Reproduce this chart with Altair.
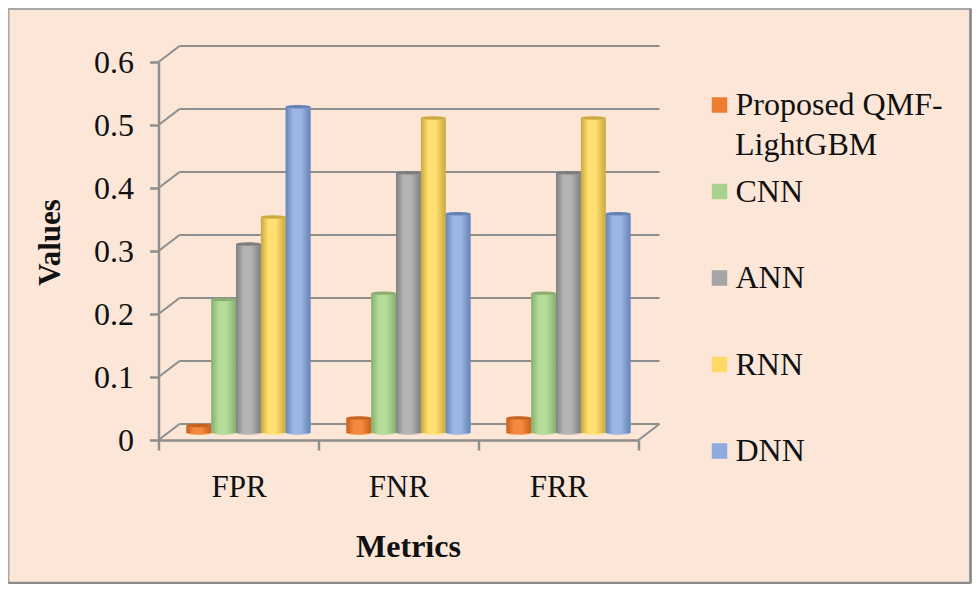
import altair as alt
import pandas as pd

metrics = ["FPR", "FNR", "FRR"]
series = ["Proposed QMF-LightGBM", "CNN", "ANN", "RNN", "DNN"]
values = {
    "Proposed QMF-LightGBM": [0.012, 0.024, 0.024],
    "CNN": [0.212, 0.222, 0.222],
    "ANN": [0.30, 0.413, 0.413],
    "RNN": [0.343, 0.50, 0.50],
    "DNN": [0.518, 0.348, 0.348],
}
y_ticks = [0, 0.1, 0.2, 0.3, 0.4, 0.5, 0.6]
legend_colors = ["#ED7D31", "#A9D18E", "#A5A5A5", "#FFD966", "#8FAADC"]
shades = {
    "Proposed QMF-LightGBM": ("#C55F1C", "#F58A3E", "#C9631E"),
    "CNN": ("#86AE6C", "#B6DC9B", "#8AB071"),
    "ANN": ("#7F7F7F", "#B4B4B4", "#7E7E7E"),
    "RNN": ("#C9A73F", "#FFE070", "#CDAA42"),
    "DNN": ("#6585B5", "#9CB7E6", "#6482B3"),
}

FONT = "Liberation Serif"
AXIS = "#8E8E8E"
ELLIPSE = "M-1,0A1,0.14 0 1,0 1,0A1,0.14 0 1,0 -1,0Z"
DY = -7

rows = [
    {"metric": m, "series": s, "value": values[s][i], "zero": 0}
    for s in series
    for i, m in enumerate(metrics)
]
df = pd.DataFrame(rows)
ticks = pd.DataFrame({"tick": y_ticks})

y_scale = alt.Scale(domain=[0, 0.6], nice=False, zero=False)
x_enc = alt.X(
    "metric:N",
    sort=metrics,
    scale=alt.Scale(paddingInner=0, paddingOuter=0),
    axis=alt.Axis(
        title="Metrics",
        titleFont=FONT,
        titleFontSize=32,
        titleFontWeight="bold",
        titleColor="#111111",
        titleX=249.5,
        titleY=106,
        titleBaseline="middle",
        labelFont=FONT,
        labelFontSize=31,
        labelColor="#111111",
        labelAngle=0,
        labelPadding=22,
        tickBand="extent",
        tickSize=10,
        tickColor=AXIS,
        tickWidth=2.5,
        domainColor=AXIS,
        domainWidth=2.5,
    ),
)
y_axis = alt.Axis(
    title="Values",
    titleFont=FONT,
    titleFontSize=31,
    titleFontWeight="bold",
    titleColor="#111111",
    titleX=-108,
    titleY=180,
    titleAngle=270,
    titleBaseline="middle",
    labelFont=FONT,
    labelFontSize=32,
    labelColor="#111111",
    labelPadding=16,
    values=y_ticks,
    format=".1~f",
    tickSize=9,
    tickColor=AXIS,
    tickWidth=2.5,
    domainColor=AXIS,
    domainWidth=2.5,
    grid=False,
)
y_enc = alt.Y("value:Q", scale=y_scale, axis=y_axis)
off_enc = alt.XOffset(
    "series:N",
    sort=series,
    scale=alt.Scale(domain=series, range=[28, 152], paddingInner=0, paddingOuter=0),
)
color_enc = alt.Color(
    "series:N",
    sort=series,
    scale=alt.Scale(domain=series, range=legend_colors),
    legend=alt.Legend(
        title=None,
        orient="none",
        legendX=545,
        legendY=25,
        symbolType="square",
        symbolSize=240,
        symbolStrokeWidth=0,
        symbolOpacity=1,
        labelFont=FONT,
        labelFontSize=32,
        labelColor="#111111",
        labelLimit=300,
        labelOffset=0,
        rowPadding=50.5,
        clipHeight=36,
        labelExpr="datum.label == 'Proposed QMF-LightGBM' ? 'Proposed QMF-' : datum.label",
    ),
)

# back wall grid and its diagonal links to the front axis
grid_back = alt.Chart(ticks).mark_rule(color=AXIS, strokeWidth=2.2, yOffset=-16).encode(
    x=alt.value(21), x2=alt.value(501), y=alt.Y("tick:Q", scale=y_scale)
)
grid_links = alt.Chart(ticks).mark_rule(color=AXIS, strokeWidth=2.2, y2Offset=-16).encode(
    x=alt.value(0),
    x2=alt.value(21),
    y=alt.Y("tick:Q", scale=y_scale),
    y2="tick:Q",
)
floor_edge = alt.Chart(ticks[ticks.tick == 0]).mark_rule(color=AXIS, strokeWidth=2.2, y2Offset=-16).encode(
    x=alt.value(480),
    x2=alt.value(501),
    y=alt.Y("tick:Q", scale=y_scale),
    y2="tick:Q",
)

# solid bars carry the axes and the legend
base = alt.Chart(df).mark_bar(
    yOffset=DY, y2Offset=DY, opacity=1
).encode(x=x_enc, xOffset=off_enc, y=y_enc, y2="zero:Q", color=color_enc)

layers = [grid_back, grid_links, floor_edge, base]
for s in series:
    edge, mid, top = shades[s]
    sub = alt.Chart(df[df.series == s])
    grad = alt.Gradient(
        gradient="linear",
        x1=0, x2=1, y1=0, y2=0,
        stops=[
            alt.GradientStop(color=edge, offset=0),
            alt.GradientStop(color=mid, offset=0.3),
            alt.GradientStop(color=mid, offset=0.6),
            alt.GradientStop(color=edge, offset=1),
        ],
    )
    bottom_cap = sub.mark_point(
        shape=ELLIPSE, size=600, filled=True, fill=mid, opacity=1, strokeWidth=0,
        yOffset=DY,
    ).encode(
        x=alt.X("metric:N", sort=metrics),
        xOffset=alt.XOffset("series:N", sort=series),
        y=alt.Y("zero:Q", scale=y_scale),
    )
    body = sub.mark_bar(
        color=grad, yOffset=DY, y2Offset=DY
    ).encode(
        x=alt.X("metric:N", sort=metrics),
        xOffset=alt.XOffset("series:N", sort=series),
        y=alt.Y("value:Q", scale=y_scale),
        y2="zero:Q",
    )
    top_cap = sub.mark_point(
        shape=ELLIPSE, size=600, filled=True, fill=top, opacity=1, strokeWidth=0,
        yOffset=DY,
    ).encode(
        x=alt.X("metric:N", sort=metrics),
        xOffset=alt.XOffset("series:N", sort=series),
        y=alt.Y("value:Q", scale=y_scale),
    )
    layers += [bottom_cap, body, top_cap]

frame_data = pd.DataFrame({"a": [0]})
frame = alt.Chart(frame_data).mark_rect(
    fillOpacity=0, stroke="#A8A8A8", strokeWidth=2
).encode(
    x=alt.value(-150), x2=alt.value(812), y=alt.value(-53), y2=alt.value(521)
)
frame_r = alt.Chart(frame_data).mark_rule(color="#8A8A8A", strokeWidth=2.5).encode(
    x=alt.value(812), y=alt.value(-53), y2=alt.value(521)
)
frame_b = alt.Chart(frame_data).mark_rule(color="#8A8A8A", strokeWidth=2.5).encode(
    x=alt.value(-150), x2=alt.value(812), y=alt.value(521)
)
second_line = alt.Chart(frame_data).mark_text(
    text="LightGBM", font=FONT, fontSize=32, color="#111111", align="left", baseline="middle"
).encode(x=alt.value(576.5), y=alt.value(83))
layers += [frame, frame_r, frame_b, second_line]

chart = (
    alt.layer(*layers)
    .properties(
        width=480,
        height=378,
        background="#FBE6D8",
        padding={"left": 150.5, "top": 54, "right": 333.5, "bottom": 144},
        autosize=alt.AutoSizeParams(type="none"),
    )
    .configure_view(stroke=None)
)
chart.save("out.html", embed_options={"renderer": "svg", "actions": False})
